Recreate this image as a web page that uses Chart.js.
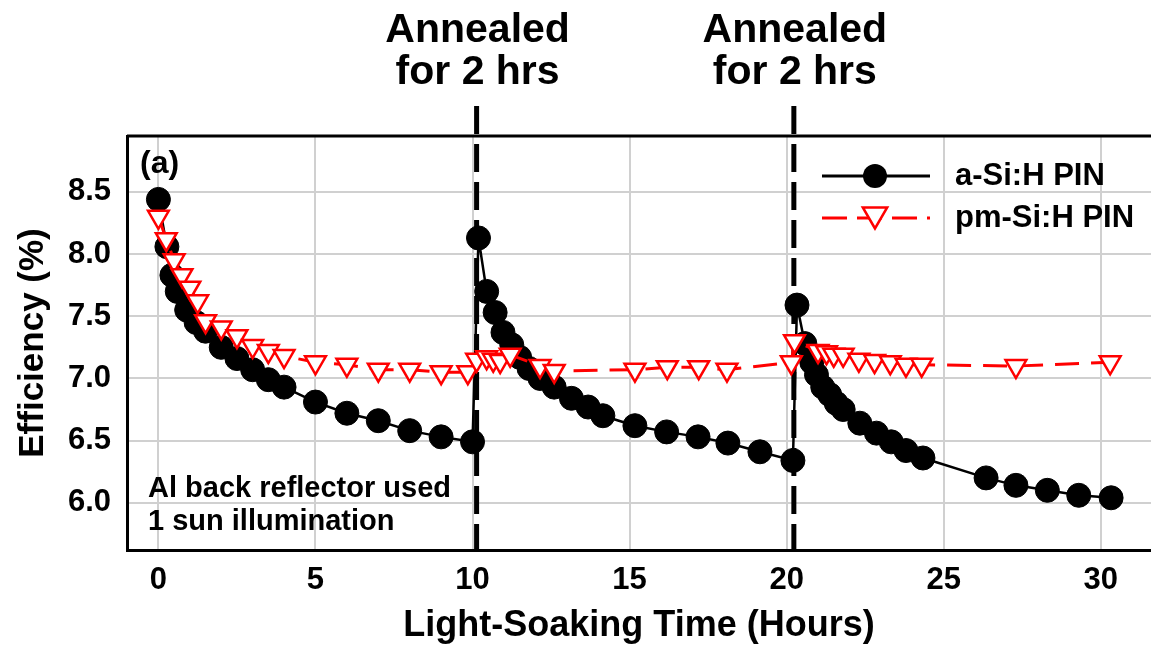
<!DOCTYPE html>
<html>
<head>
<meta charset="utf-8">
<script src="https://cdn.jsdelivr.net/npm/chart.js@4"></script>
<style>
    html, body { margin: 0; padding: 0; background: #fff; }
    #wrap { width: 1151px; height: 652px; position: relative; }
</style>
</head>
<body>
<div id="wrap"><canvas id="effChart"></canvas></div>
<script>
/*  Data: light-soaking time (hours) vs efficiency (%)  */
const timeA = [0, 0.27, 0.43, 0.6, 0.9, 1.2, 1.5, 2, 2.5, 3, 3.5, 4, 5, 6, 7, 8, 9, 10,
    10.19, 10.45, 10.72, 10.97, 11.25, 11.5, 11.8, 12.15, 12.6, 13.15, 13.68, 14.15, 15.17, 16.18, 17.18, 18.13, 19.15, 20.2,
    20.33, 20.58, 20.8, 20.95, 21.15, 21.37, 21.58, 21.8, 22.33, 22.86, 23.33, 23.8, 24.34, 26.35, 27.3, 28.3, 29.3, 30.33];
const effA = [8.44, 8.06, 7.83, 7.70, 7.55, 7.45, 7.38, 7.25, 7.16, 7.07, 6.99, 6.93, 6.81, 6.72, 6.66, 6.58, 6.53, 6.49,
    8.13, 7.70, 7.53, 7.37, 7.27, 7.17, 7.08, 7.00, 6.93, 6.84, 6.77, 6.70, 6.62, 6.57, 6.53, 6.48, 6.41, 6.34,
    7.59, 7.28, 7.13, 7.03, 6.93, 6.87, 6.80, 6.75, 6.64, 6.56, 6.49, 6.42, 6.36, 6.20, 6.14, 6.10, 6.06, 6.04];

const timeB = [0, 0.25, 0.5, 0.75, 1.0, 1.25, 1.5, 2, 2.5, 3, 3.5, 4, 5, 6, 7, 8, 9, 9.85,
    10.13, 10.45, 10.66, 10.88, 11.2, 12.15, 12.6, 15.17, 16.2, 17.2, 18.1, 20.15,
    20.25, 21.0, 21.27, 21.5, 21.8, 22.3, 22.8, 23.3, 23.8, 24.3, 27.3, 30.3];
const effB = [8.30, 8.12, 7.95, 7.83, 7.73, 7.62, 7.46, 7.41, 7.34, 7.26, 7.22, 7.18, 7.13, 7.11, 7.07, 7.07, 7.05, 7.05,
    7.15, 7.17, 7.15, 7.14, 7.19, 7.10, 7.06, 7.07, 7.09, 7.09, 7.07, 7.13,
    7.30, 7.22, 7.21, 7.19, 7.19, 7.15, 7.14, 7.13, 7.11, 7.11, 7.10, 7.13];

const seriesNames = ["a-Si:H PIN", "pm-Si:H PIN"];
const annealTimes = [10.13, 20.23];
const annealLabel = ["Annealed", "for 2 hrs"];
const insetLines = ["Al back reflector used", "1 sun illumination"];
const xTicks = [0, 5, 10, 15, 20, 25, 30];
const yTicks = [6.0, 6.5, 7.0, 7.5, 8.0, 8.5];

const FONT = "'Liberation Sans', Arial, Helvetica, sans-serif";

function toPoints(xs, ys) {
    return xs.map((x, i) => ({ x, y: ys[i] }));
}

/*  extra drawing: frame top, anneal markers, legend, labels  */
const decorPlugin = {
    id: "decor",
    beforeDatasetsDraw(chart) {
        const { ctx, chartArea, scales } = chart;
        ctx.save();
        ctx.strokeStyle = "#000";
        ctx.lineWidth = 5;
        ctx.setLineDash([28, 10]);
        annealTimes.forEach(t => {
            const px = scales.x.getPixelForValue(t);
            ctx.beginPath();
            ctx.moveTo(px, chartArea.top - 30);
            ctx.lineTo(px, chartArea.bottom);
            ctx.stroke();
        });
        ctx.restore();
    },
    afterDraw(chart) {
        const { ctx, chartArea, scales } = chart;
        ctx.save();

        // top frame line
        ctx.strokeStyle = "#000";
        ctx.lineWidth = 3;
        ctx.beginPath();
        ctx.moveTo(chartArea.left, chartArea.top);
        ctx.lineTo(chartArea.right, chartArea.top);
        ctx.stroke();

        // anneal annotations
        ctx.fillStyle = "#000";
        ctx.textAlign = "center";
        ctx.textBaseline = "alphabetic";
        ctx.font = "bold 41px " + FONT;
        annealTimes.forEach(t => {
            const px = scales.x.getPixelForValue(t);
            ctx.fillText(annealLabel[0], px + 1, 42);
            ctx.fillText(annealLabel[1], px + 1, 84);
        });

        // panel tag + inset text
        ctx.textAlign = "left";
        ctx.font = "bold 32px " + FONT;
        ctx.fillText("(a)", 140, 173);
        ctx.font = "bold 29px " + FONT;
        ctx.fillText(insetLines[0], 148, 497);
        ctx.fillText(insetLines[1], 148, 530);

        // legend
        const dsA = chart.data.datasets[0];
        const dsB = chart.data.datasets[1];
        const lx0 = 822, lx1 = 930, mx = 875;
        const ly = [176, 218];

        ctx.strokeStyle = dsA.borderColor;
        ctx.lineWidth = 3;
        ctx.setLineDash([]);
        ctx.beginPath();
        ctx.moveTo(lx0, ly[0]);
        ctx.lineTo(lx1, ly[0]);
        ctx.stroke();
        ctx.fillStyle = dsA.pointBackgroundColor;
        ctx.beginPath();
        ctx.arc(mx, ly[0], 12, 0, Math.PI * 2);
        ctx.fill();

        ctx.strokeStyle = dsB.borderColor;
        ctx.setLineDash([25, 10]);
        ctx.beginPath();
        ctx.moveTo(lx0, ly[1]);
        ctx.lineTo(lx1, ly[1]);
        ctx.stroke();
        ctx.setLineDash([]);
        const r = 14;
        ctx.fillStyle = "#fff";
        ctx.lineWidth = 2.5;
        ctx.beginPath();
        ctx.moveTo(mx, ly[1] + r * 0.75);
        ctx.lineTo(mx - r * 0.87, ly[1] - r * 0.75);
        ctx.lineTo(mx + r * 0.87, ly[1] - r * 0.75);
        ctx.closePath();
        ctx.fill();
        ctx.stroke();

        ctx.fillStyle = "#000";
        ctx.font = "bold 31px " + FONT;
        ctx.textBaseline = "middle";
        ctx.fillText(seriesNames[0], 955, ly[0]);
        ctx.fillText(seriesNames[1], 955, ly[1]);

        ctx.restore();
    }
};

new Chart(document.getElementById("effChart"), {
    type: "line",
    data: {
        datasets: [
            {
                label: seriesNames[0],
                data: toPoints(timeA, effA),
                borderColor: "#000",
                borderWidth: 2.5,
                pointStyle: "circle",
                pointRadius: 12,
                pointBackgroundColor: "#000",
                pointBorderColor: "#000",
                pointBorderWidth: 1,
                tension: 0,
                order: 1
            },
            {
                label: seriesNames[1],
                data: toPoints(timeB, effB),
                borderColor: "#ff0000",
                borderWidth: 3,
                borderDash: [24, 12],
                pointStyle: "triangle",
                rotation: 180,
                pointRadius: 12,
                pointBackgroundColor: "#fff",
                pointBorderColor: "#ff0000",
                pointBorderWidth: 2.5,
                tension: 0,
                order: 0
            }
        ]
    },
    options: {
        responsive: true,
        maintainAspectRatio: false,
        animation: false,
        layout: { autoPadding: false, padding: { top: 136, right: 0, left: 0, bottom: 0 } },
        plugins: {
            legend: { display: false },
            tooltip: { enabled: false }
        },
        scales: {
            x: {
                type: "linear",
                min: -1,
                max: 31.6,
                afterBuildTicks: s => { s.ticks = xTicks.map(v => ({ value: v })); },
                afterFit: s => { s.height = 102; s.paddingLeft = 0; s.paddingRight = 0; },
                grid: { color: "#d0d0d0", lineWidth: 2, drawTicks: false },
                border: { color: "#000", width: 3 },
                ticks: {
                    color: "#000",
                    padding: 12,
                    font: { family: FONT, size: 31, weight: "bold" }
                },
                title: {
                    display: true,
                    text: "Light-Soaking Time (Hours)",
                    color: "#000",
                    padding: { top: 0, bottom: 4 },
                    font: { family: FONT, size: 36, weight: "bold" }
                }
            },
            y: {
                min: 5.62,
                max: 8.95,
                afterBuildTicks: s => { s.ticks = yTicks.map(v => ({ value: v })); },
                afterFit: s => { s.width = 127; },
                grid: { color: "#d0d0d0", lineWidth: 2, drawTicks: false },
                border: { color: "#000", width: 3 },
                ticks: {
                    color: "#000",
                    padding: 16,
                    callback: v => v.toFixed(1),
                    font: { family: FONT, size: 31, weight: "bold" }
                },
                title: {
                    display: true,
                    text: "Efficiency (%)",
                    color: "#000",
                    padding: { top: 12, bottom: 0 },
                    font: { family: FONT, size: 35, weight: "bold" }
                }
            }
        }
    },
    plugins: [decorPlugin]
});
</script>
</body>
</html>
